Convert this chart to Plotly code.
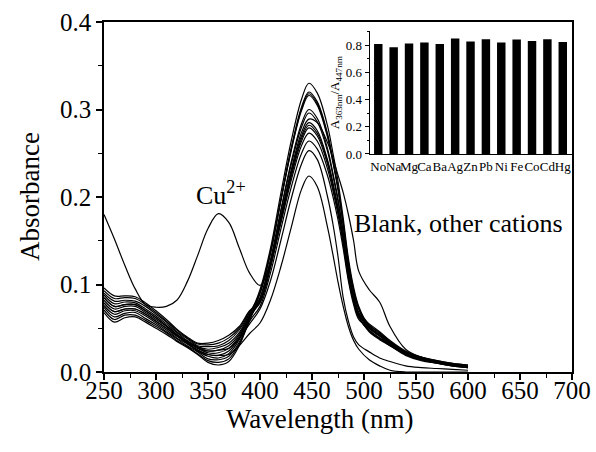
import plotly.graph_objects as go

# ---------------- data ----------------
wavelengths = [250, 260, 270, 280, 290, 300, 310, 320, 330, 340, 350, 360, 370, 380, 390,
               400, 410, 420, 430, 440, 447, 455, 465, 470, 475, 480, 485, 490, 495,
               505, 515, 525, 540, 555, 570, 585, 600]

abs_cu = [.180, .152, .122, .095, .077, .074, .075, .082, .103, .133, .164, .181, .171, .142, .113,
          .099, .125, .170, .219, .259, .273, .264, .232, .208, .180, .146, .107, .080, .062,
          .047, .039, .031, .020, .014, .010, .007, .005]

abs_blank = [.082, .072, .075, .075, .068, .060, .052, .042, .034, .027, .022, .022, .027, .041, .064,
             .085, .128, .185, .240, .284, .300, .290, .255, .228, .198, .160, .118, .088, .068,
             .051, .042, .033, .022, .015, .011, .008, .006]

abs_na = [.076, .066, .070, .070, .064, .056, .048, .039, .032, .024, .018, .016, .021, .037, .062,
          .091, .137, .197, .256, .303, .320, .309, .272, .243, .211, .171, .126, .094, .073,
          .050, .041, .032, .021, .015, .011, .008, .006]

abs_mg = [.090, .081, .082, .081, .075, .066, .057, .046, .038, .030, .029, .030, .036, .048, .068,
          .090, .136, .196, .254, .301, .318, .307, .270, .242, .210, .170, .125, .093, .072,
          .054, .045, .035, .023, .017, .013, .010, .008]

abs_ca = [.071, .060, .065, .065, .059, .052, .045, .036, .029, .021, .013, .011, .015, .032, .059,
          .090, .135, .195, .253, .299, .316, .305, .268, .240, .208, .168, .124, .093, .072,
          .047, .038, .030, .020, .014, .010, .007, .005]

abs_ba = [.085, .075, .077, .077, .070, .062, .053, .043, .035, .028, .024, .025, .030, .043, .065,
          .094, .141, .204, .264, .312, .330, .319, .281, .251, .218, .176, .130, .097, .075,
          .052, .043, .034, .022, .016, .012, .009, .007]

abs_ag = [.074, .063, .067, .068, .061, .054, .046, .038, .030, .023, .015, .014, .018, .034, .060,
          .084, .126, .183, .237, .280, .296, .286, .252, .225, .195, .158, .116, .087, .067,
          .048, .039, .031, .020, .014, .011, .008, .006]

abs_zn = [.096, .087, .087, .086, .079, .070, .060, .049, .040, .033, .033, .036, .042, .052, .070,
          .081, .122, .176, .228, .270, .285, .276, .242, .217, .188, .152, .112, .084, .065,
          .053, .044, .034, .023, .016, .012, .009, .007]

abs_pb = [.079, .069, .072, .072, .066, .058, .050, .041, .033, .025, .020, .019, .024, .039, .063,
          .080, .120, .174, .226, .267, .282, .273, .240, .214, .186, .150, .111, .083, .064,
          .046, .037, .030, .019, .013, .010, .007, .005]

abs_ni = [.088, .078, .080, .079, .072, .064, .055, .045, .036, .029, .026, .028, .033, .045, .066,
          .079, .119, .172, .223, .264, .279, .270, .237, .212, .184, .149, .110, .082, .063,
          .055, .046, .036, .024, .017, .013, .010, .008]

abs_fe = [.068, .057, .062, .063, .057, .050, .043, .035, .028, .020, .011, .008, .012, .030, .058,
          .075, .113, .163, .211, .250, .264, .255, .224, .201, .174, .141, .104, .077, .060,
          .050, .041, .032, .021, .015, .011, .008, .006]

abs_co = [.093, .084, .085, .084, .077, .068, .058, .048, .039, .032, .031, .033, .039, .050, .069,
          .082, .123, .178, .231, .274, .289, .285, .262, .245, .225, .205, .180, .150, .115,
          .094, .080, .052, .026, .017, .012, .009, .007]

abs_cd = [.079, .069, .072, .072, .066, .058, .050, .041, .033, .025, .020, .019, .020, .030, .044,
          .056, .082, .120, .165, .209, .224, .212, .165, .135, .103, .075, .052, .036, .026,
          .014, .007, .002, .000, .000, .000, .000, .000]

abs_hg = [.085, .075, .077, .077, .070, .062, .053, .043, .035, .028, .024, .025, .027, .038, .055,
          .072, .104, .150, .198, .238, .253, .243, .200, .170, .132, .085, .058, .040, .031,
          .023, .016, .012, .007, .005, .004, .003, .002]

ions = ["No", "Na", "Mg", "Ca", "Ba", "Ag", "Zn", "Pb", "Ni", "Fe", "Co", "Cd", "Hg"]
ratio = [0.807, 0.783, 0.812, 0.819, 0.807, 0.848, 0.827, 0.843, 0.819, 0.841, 0.829, 0.843, 0.822]

x_ticks = [250, 300, 350, 400, 450, 500, 550, 600, 650, 700]
y_ticks = [0.0, 0.1, 0.2, 0.3, 0.4]
inset_y_ticks = [0.0, 0.2, 0.4, 0.6, 0.8]

spectra = [abs_cu, abs_blank, abs_na, abs_mg, abs_ca, abs_ba, abs_ag, abs_zn,
           abs_pb, abs_ni, abs_fe, abs_co, abs_cd, abs_hg]

# ---------------- figure ----------------
FONT = "Liberation Serif, Times New Roman, Times, serif"
fig = go.Figure()

for s in spectra:
    fig.add_trace(go.Scatter(
        x=wavelengths, y=s, mode="lines",
        line=dict(color="black", width=1.2, shape="spline", smoothing=1.0),
        showlegend=False, hoverinfo="skip"))

fig.add_trace(go.Bar(
    x=ions, y=ratio, xaxis="x2", yaxis="y2",
    marker=dict(color="black", line=dict(width=0)), width=0.55,
    showlegend=False, hoverinfo="skip"))

axis_common = dict(showgrid=False, zeroline=False, showline=True, linecolor="black",
                   linewidth=1.5, ticks="outside", tickcolor="black", tickwidth=1.5,
                   automargin=False)

fig.update_layout(
    width=596, height=452,
    margin=dict(l=104, r=24, t=22, b=80),
    paper_bgcolor="white", plot_bgcolor="white",
    font=dict(family=FONT, color="black"),
    xaxis=dict(**axis_common, range=[250, 700], tickvals=x_ticks, ticklen=6, mirror=True,
               ticklabelstandoff=-11,
               minor=dict(ticks="outside", ticklen=4, tick0=250, dtick=25, tickcolor="black", tickwidth=1.2),
               tickfont=dict(size=25, family=FONT)),
    yaxis=dict(**axis_common, range=[0, 0.4], tickvals=y_ticks, tickformat=".1f", ticklen=6, mirror=True,
               ticklabelstandoff=0,
               minor=dict(ticks="outside", ticklen=4, tick0=0, dtick=0.05, tickcolor="black", tickwidth=1.2),
               tickfont=dict(size=25, family=FONT)),
    xaxis2=dict(domain=[0.568, 1.0], anchor="y2", type="category", range=[-0.55, 12.6],
                tickmode="array", tickvals=ions, ticktext=ions, automargin=False,
                showgrid=False, zeroline=False, showline=True, linecolor="black", linewidth=1.2,
                ticks="", tickfont=dict(size=13, family=FONT), tickangle=0),
    yaxis2=dict(domain=[0.623, 0.973], anchor="x2", range=[0, 0.9], tickvals=inset_y_ticks,
                tickformat=".1f", showgrid=False, zeroline=False, showline=True, linecolor="black",
                linewidth=1.2, ticks="outside", ticklen=4, tickcolor="black", tickwidth=1,
                automargin=False,
                minor=dict(ticks="outside", ticklen=2, tick0=0, dtick=0.1, tickcolor="black"),
                tickfont=dict(size=13, family=FONT),
                title=dict(text="A<sub>363nm</sub>/A<sub>447nm</sub>", font=dict(size=13, family=FONT),
                           standoff=3)),
    annotations=[
        dict(x=(320 - 104) / 468, y=(372 - 419) / 350, xref="paper", yref="paper",
             text="Wavelength (nm)", showarrow=False,
             xanchor="center", yanchor="middle", font=dict(size=27, family=FONT)),
        dict(x=(30 - 104) / 468, y=(372 - 197) / 350, xref="paper", yref="paper",
             text="Absorbance", showarrow=False,
             textangle=-90, xanchor="center", yanchor="middle", font=dict(size=27, family=FONT)),
        dict(x=337, y=0.204, xref="x", yref="y", text="Cu<sup>2+</sup>", showarrow=False,
             xanchor="left", yanchor="middle", font=dict(size=26, family=FONT)),
        dict(x=488, y=0.170, xref="x", yref="y", text="Blank, other cations", showarrow=False,
             xanchor="left", yanchor="middle", font=dict(size=26, family=FONT)),
    ],
)

fig.write_html("out.html", config={"displayModeBar": False},
               post_script="document.body.style.margin='0';")
